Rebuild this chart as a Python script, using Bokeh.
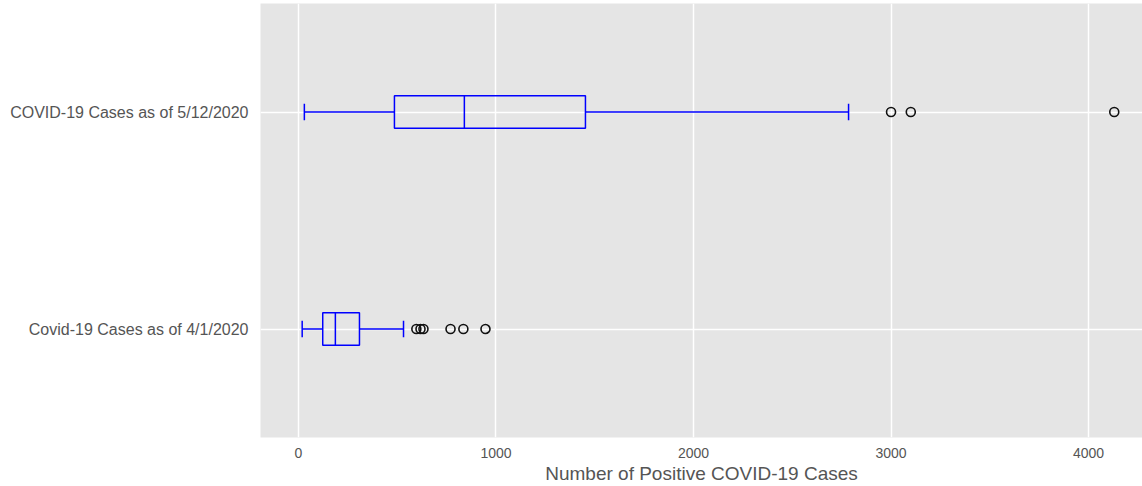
from bokeh.plotting import figure
from bokeh.models import ColumnDataSource, FactorRange, Range1d, SingleIntervalTicker
from bokeh.transform import dodge
from bokeh.embed import file_html
from bokeh.resources import INLINE

categories = ["Covid-19 Cases as of 4/1/2020", "COVID-19 Cases as of 5/12/2020"]
whisker_low = [19, 30]
q1 = [123, 486]
median = [187, 840]
q3 = [309, 1453]
whisker_high = [532, 2785]
outliers_0401 = [597, 618, 633, 770, 835, 947]
outliers_0512 = [3000, 3100, 4130]

BOX_H = 0.15
CAP_H = 0.075
GRAY = "#555555"
FONT = "Liberation Sans"

p = figure(width=1142, height=486, output_backend="svg", toolbar_location=None,
           y_range=FactorRange(factors=categories, range_padding=0),
           x_range=Range1d(-192, 4273),
           min_border_left=260, min_border_top=3, min_border_right=0, min_border_bottom=0)
p.background_fill_color = "#E5E5E5"
p.border_fill_color = "white"
p.outline_line_color = None

src = ColumnDataSource(dict(cat=categories, lo=whisker_low, q1=q1, med=median, q3=q3, hi=whisker_high))

# whiskers
p.segment(x0="lo", y0="cat", x1="q1", y1="cat", source=src, line_color="blue", line_width=1.5)
p.segment(x0="q3", y0="cat", x1="hi", y1="cat", source=src, line_color="blue", line_width=1.5)
# caps
for col in ("lo", "hi"):
    p.segment(x0=col, y0=dodge("cat", -CAP_H / 2, range=p.y_range),
              x1=col, y1=dodge("cat", CAP_H / 2, range=p.y_range),
              source=src, line_color="blue", line_width=1.5)
# boxes
p.hbar(y="cat", left="q1", right="q3", height=BOX_H, source=src,
       fill_color=None, line_color="blue", line_width=1.5)
# medians
p.segment(x0="med", y0=dodge("cat", -BOX_H / 2, range=p.y_range),
          x1="med", y1=dodge("cat", BOX_H / 2, range=p.y_range),
          source=src, line_color="blue", line_width=1.5)
# outliers
ox = outliers_0401 + outliers_0512
oy = [categories[0]] * len(outliers_0401) + [categories[1]] * len(outliers_0512)
p.scatter(x=ox, y=oy, marker="circle", size=9, fill_color=None,
          line_color="#111111", line_width=1.6)

p.xaxis.ticker = SingleIntervalTicker(interval=1000)
p.xaxis.axis_label = "Number of Positive COVID-19 Cases"
p.xaxis.axis_label_text_font = FONT
p.xaxis.axis_label_text_font_style = "normal"
p.xaxis.axis_label_text_font_size = "19px"
p.xaxis.axis_label_text_color = GRAY
p.xaxis.axis_label_standoff = 2
for ax in (p.xaxis, p.yaxis):
    ax.axis_line_color = None
    ax.major_tick_line_color = None
    ax.minor_tick_line_color = None
    ax.major_tick_out = 0
    ax.major_tick_in = 0
    ax.minor_tick_out = 0
    ax.minor_tick_in = 0
    ax.major_label_text_font = FONT
    ax.major_label_text_color = GRAY
p.xaxis.major_label_text_font_size = "14px"
p.yaxis.major_label_text_font_size = "16px"
p.xaxis.major_label_standoff = 10
p.yaxis.major_label_standoff = 12

p.xgrid.grid_line_color = "white"
p.xgrid.grid_line_width = 1.5
p.ygrid.grid_line_color = "white"
p.ygrid.grid_line_width = 1.5

open("out.html", "w").write(file_html(p, INLINE))
